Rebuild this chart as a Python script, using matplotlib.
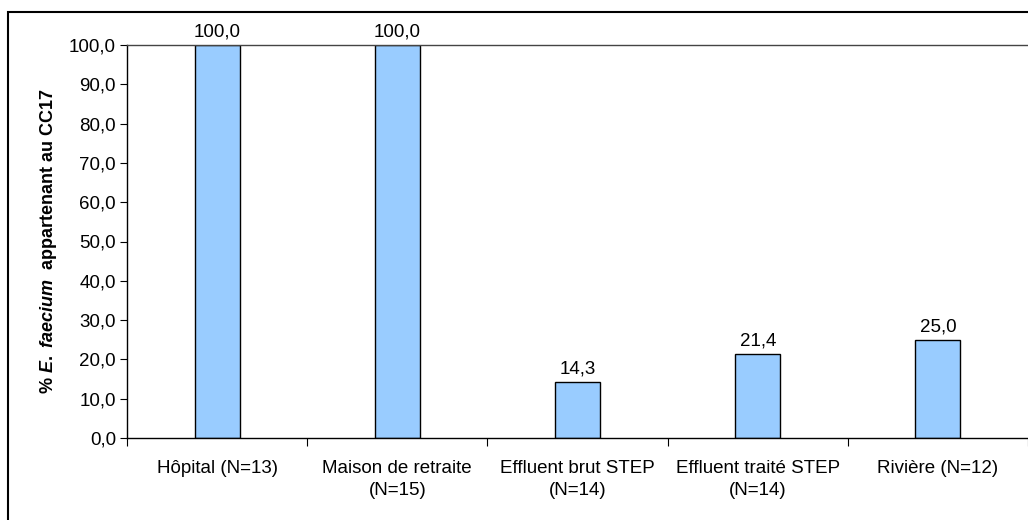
import numpy as np
import matplotlib.pyplot as plt
from matplotlib.patches import Rectangle

plt.rcParams['font.family'] = ['Liberation Sans', 'DejaVu Sans']
plt.rcParams['mathtext.fontset'] = 'custom'
plt.rcParams['mathtext.it'] = 'Liberation Sans:italic:bold'
plt.rcParams['mathtext.rm'] = 'Liberation Sans:bold'

categories = ['Hôpital (N=13)', 'Maison de retraite\n(N=15)', 'Effluent brut STEP\n(N=14)',
              'Effluent traité STEP\n(N=14)', 'Rivière (N=12)']
values = [100.0, 100.0, 14.3, 21.4, 25.0]
yticks = np.arange(0, 101, 10)

fs = 13.5

fig = plt.figure(figsize=(10.28, 5.2), dpi=100)
fig.patches.append(Rectangle((8/1028, -0.05), 1.1, (520-12)/520 + 0.05, transform=fig.transFigure,
                             fill=False, edgecolor='black', linewidth=1.5))
ax = fig.add_axes([127/1028, (520-438)/520, 1 - 127/1028, (438-45)/520])

x = np.arange(len(categories))
ax.bar(x, values, width=0.25, color='#99CCFF', edgecolor='black', linewidth=1)
for xi, v in zip(x, values):
    ax.text(xi, v + 1.2, f'{v:.1f}'.replace('.', ','), ha='center', va='bottom', fontsize=fs)

ax.set_xlim(-0.5, 4.5)
ax.set_ylim(0, 100)
ax.set_yticks(yticks)
ax.set_yticklabels([f'{t:.1f}'.replace('.', ',') for t in yticks], fontsize=fs)
ax.set_xticks(np.arange(-0.5, 5, 1))
ax.set_xticklabels([])
ax.set_xticks(x, minor=True)
ax.set_xticklabels(categories, minor=True, fontsize=fs, linespacing=1.4)
ax.tick_params(axis='x', which='minor', length=0, pad=16)
ax.tick_params(axis='x', which='major', length=6, direction='out')
ax.tick_params(axis='y', length=5, direction='out', pad=3)
for s in ['left', 'bottom', 'top']:
    ax.spines[s].set_linewidth(1)
ax.spines['right'].set_visible(False)
ax.spines['top'].set_color('#444444')

ax.set_ylabel(r'% $\mathit{E.\ faecium}$  appartenant au CC17', fontsize=13, fontweight='bold', labelpad=7)

fig.savefig('out.png', dpi=100)
